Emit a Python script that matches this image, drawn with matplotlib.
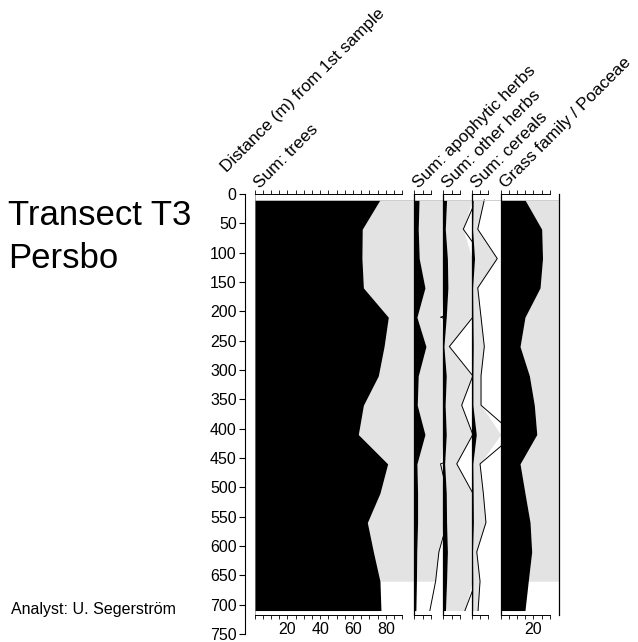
import numpy as np
import matplotlib
matplotlib.use("Agg")
import matplotlib.pyplot as plt
from matplotlib.ticker import FixedLocator, NullFormatter

plt.rcParams['font.family'] = ['Liberation Sans', 'DejaVu Sans']

W, H = 638, 642

# sample distances along the transect (m)
distance = [10, 60, 110, 160, 210, 260, 310, 360, 410, 460, 510, 560, 610, 660, 710]

# pollen percentages per sample
trees = [76.5, 65.7, 65.5, 66.4, 81.6, 79.0, 75.5, 66.4, 63.3, 81.2, 76.5, 68.8, 72.5, 76.5, 77.1]
apophytic = [2.9, 2.4, 3.0, 6.5, 1.6, 7.1, 2.4, 1.8, 6.5, 1.6, 2.0, 2.0, 1.5, 1.3, 0.95]
other_herbs = [2.0, 1.22, 2.5, 2.8, 1.8, 0.37, 1.8, 1.12, 1.8, 0.82, 1.8, 2.0, 2.5, 2.0, 1.32]
cereals = [0.75, 0.35, 1.54, 0.35, 0.55, 0.75, 0.55, 0.55, 2.6, 0.49, 0.69, 0.85, 0.29, 0.49, 0.37]
poaceae = [14.8, 25.0, 25.5, 24.0, 14.8, 11.8, 17.5, 20.5, 22.0, 11.8, 14.8, 17.9, 18.9, 16.8, 14.8]

labels = ["Sum: trees", "Sum: apophytic herbs", "Sum: other herbs",
          "Sum: cereals", "Grass family / Poaceae"]
series = [trees, apophytic, other_herbs, cereals, poaceae]
tick_max = [90, 10, 10, 10, 30]
tick_labels = [[20, 40, 60, 80], [], [], [], [20]]
# deepest sample that gets the shaded exaggeration
shade_to = [660, 660, 710, 710, 660]
exag = 10

# panel extents in pixels (left, right)
panels = [(254.5, 413.5), (414.3, 443.3), (443.3, 472.0), (472.0, 500.7), (500.7, 558.7)]
px_per_pct = 1.64

y0, y750 = 194, 634          # pixel rows of 0 m and 750 m
px_per_m = (y750 - y0) / 750.
y_bot = 615                  # bottom axis row
d_bot = (y_bot - y0) / px_per_m


def fig_rect(x0, x1, ya, yb):
    return [x0 / W, 1 - yb / H, (x1 - x0) / W, (yb - ya) / H]


fig = plt.figure(figsize=(W / 100, H / 100), dpi=100)

# distance axis
dax = fig.add_axes(fig_rect(245, 246, y0, y750))
dax.set_ylim(750, 0)
dax.set_xticks([])
dax.set_yticks(np.arange(0, 751, 50))
dax.tick_params(axis='y', direction='out', length=4, width=0.8, labelsize=11.5, pad=2)
for s in ['top', 'right', 'bottom']:
    dax.spines[s].set_visible(False)
dax.spines['left'].set_linewidth(0.8)
dax.patch.set_visible(False)

d = np.array(distance, dtype=float)
for i, (vals, (xl, xr)) in enumerate(zip(series, panels)):
    v = np.array(vals, dtype=float)
    xmax = (xr - xl) / px_per_pct
    ax = fig.add_axes(fig_rect(xl, xr, y0, y_bot))
    ax.set_xlim(0, xmax)
    ax.set_ylim(d_bot, 0)
    ax.patch.set_visible(False)

    m = d <= shade_to[i]
    ax.fill_betweenx(d[m], v[m], np.minimum(v[m] * exag, xmax), color='#e3e3e3', lw=0)
    ax.fill_betweenx(d, 0, v, color='black', lw=0)
    ax.plot(v * exag, d, color='black', lw=0.7)
    # thin rule along the top of the fills
    ax.plot([0, xmax], [d[0], d[0]], color='#c8c8c8', lw=0.6)

    ax.set_yticks([])
    ax.xaxis.set_major_locator(FixedLocator(tick_labels[i]))
    ax.xaxis.set_minor_locator(FixedLocator(np.arange(0, tick_max[i] + 1, 5)))
    ax.xaxis.set_minor_formatter(NullFormatter())
    ax.tick_params(axis='x', which='both', direction='out', top=True, bottom=True,
                   labeltop=False, labelbottom=True, length=3, width=0.6,
                   labelsize=11.5, pad=2)
    for s in ['top', 'bottom']:
        ax.spines[s].set_bounds(0, tick_max[i])
        ax.spines[s].set_linewidth(0.7)
    ax.spines['left'].set_linewidth(0.9 if i else 0.5)
    ax.spines['left'].set_color('black' if i else '#888888')
    ax.spines['right'].set_visible(i == len(series) - 1)
    ax.spines['right'].set_linewidth(0.9)

    fig.text((xl + 5) / W, 1 - 189 / H, labels[i], rotation=45, rotation_mode='anchor',
             ha='left', va='baseline', fontsize=12.3)

fig.text(227 / W, 1 - 173 / H, "Distance (m) from 1st sample", rotation=45,
         rotation_mode='anchor', ha='left', va='baseline', fontsize=12.3)

fig.text(8 / W, 1 - 225 / H, "Transect T3", fontsize=25, va='baseline')
fig.text(8 / W, 1 - 268 / H, "Persbo", fontsize=25, va='baseline')
fig.text(11 / W, 1 - 614 / H, "Analyst: U. Segerström", fontsize=11.5, va='baseline')

fig.savefig("out.png", dpi=100)
